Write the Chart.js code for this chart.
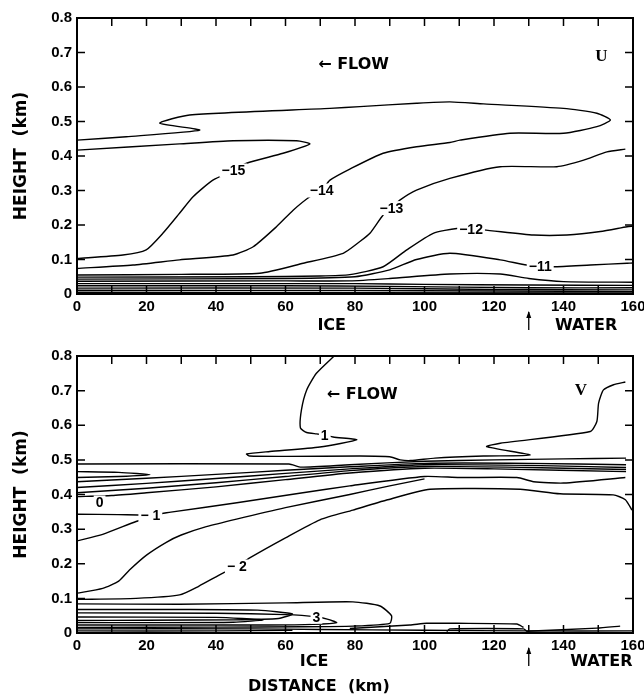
<!DOCTYPE html>
<html>
<head>
<meta charset="utf-8">
<script src="https://cdn.jsdelivr.net/npm/chart.js@4.4.1/dist/chart.umd.min.js"></script>
<style>
  body { margin: 0; background: #fff; }
  #wrap { position: relative; width: 644px; height: 696px; }
  canvas { position: absolute; left: 0; }
</style>
</head>
<body>
<div id="wrap">
  <canvas id="panelU" width="644" height="340" style="top:0"></canvas>
  <canvas id="panelV" width="644" height="356" style="top:340px"></canvas>
</div>
<script>
// contours, [distance km, height km]
// U panel
const u15 = [[0,0.103],[13.2,0.113],[19.9,0.128],[24.7,0.176],[29.5,0.234],[33.4,0.282],[39.1,0.33],[45,0.358],[48.8,0.379],[59.3,0.408],[67,0.435],[63.2,0.444],[44.9,0.444],[29.5,0.435],[0,0.417]];
const u14 = [[0,0.074],[16.1,0.084],[29.5,0.099],[44.9,0.113],[50.7,0.137],[57.4,0.195],[62.2,0.243],[67,0.282],[70.4,0.3],[72.8,0.33],[78.5,0.362],[88.1,0.408],[97.7,0.427],[107.3,0.439],[110.2,0.446],[124.6,0.466],[140,0.466],[149.6,0.485],[153.5,0.504],[149.6,0.524],[140,0.538],[117,0.551],[107.3,0.557],[97.7,0.553],[81.4,0.543],[72.8,0.538],[32.4,0.519],[23.8,0.495],[35.3,0.475],[14.2,0.456],[0,0.446]];
const u13 = [[0,0.055],[30,0.057],[52.6,0.06],[65.1,0.089],[76.6,0.118],[81.4,0.152],[84.3,0.176],[88.1,0.229],[90.5,0.249],[92.9,0.272],[97.7,0.301],[107.3,0.335],[121.8,0.369],[138.1,0.369],[145.8,0.388],[152.5,0.412],[157.8,0.42]];
const u12 = [[0,0.049],[50,0.05],[70,0.052],[78.5,0.056],[88.1,0.079],[94.9,0.128],[102.5,0.176],[109.3,0.19],[113.4,0.188],[117,0.186],[131.4,0.171],[141,0.171],[150.6,0.181],[158.3,0.195],[160,0.197]];
const u11 = [[0,0.043],[60,0.045],[80,0.05],[90,0.07],[97.7,0.1],[107.3,0.118],[121.8,0.099],[129.4,0.084],[133.3,0.081],[137.1,0.079],[147.7,0.084],[158.3,0.089],[160,0.09]];
const u10 = [[0,0.037],[60,0.038],[78.5,0.038],[90,0.045],[107.3,0.058],[121.8,0.058],[130,0.045],[140,0.036],[160,0.034]];
const uGround1 = [[0,0.03],[80,0.03],[100,0.028],[130,0.026],[160,0.025]];
const uGround2 = [[0,0.024],[60,0.024],[90,0.022],[130,0.018],[160,0.018]];
const uGround3 = [[0,0.017],[80,0.017],[120,0.013],[160,0.012]];
const uGround4 = [[0,0.011],[80,0.01],[160,0.007]];
const uGround5 = [[0,0.005],[160,0.003]];
const uContourLabels = [["\u221215",45,0.358],["\u221214",70.4,0.3],["\u221213",90.5,0.249],["\u221212",113.4,0.188],["\u221211",133.3,0.081]];

// V panel
const v1 = [[74,0.8],[68.9,0.75],[66.1,0.702],[64.6,0.645],[64.3,0.592],[66.1,0.579],[68.9,0.575],[71.3,0.572],[73.7,0.566],[80.5,0.558],[69.9,0.537],[55.5,0.524],[48.8,0.517],[49.7,0.511],[60.3,0.51],[81.4,0.511],[90,0.509],[93,0.5],[96,0.498],[103,0.505],[117,0.511],[130.4,0.514],[117.9,0.538],[121.8,0.548],[147.7,0.582],[149.6,0.611],[150.1,0.664],[151.5,0.702],[154.4,0.717],[157.8,0.725]];
const vTop = [[0,0.488],[61,0.488],[64.5,0.479],[78.5,0.486],[100,0.496],[120,0.5],[140,0.503],[158,0.505]];
const vLoop = [[0,0.466],[12,0.464],[21,0.457],[12,0.452],[0,0.449]];
const vFan1 = [[0,0.437],[20,0.447],[40,0.458],[60,0.47],[78.5,0.48],[100,0.49],[130,0.49],[158,0.486]];
const vFan2 = [[0,0.42],[20,0.432],[40,0.446],[60,0.461],[78.5,0.474],[100,0.486],[130,0.484],[158,0.478]];
const vFan3 = [[0,0.405],[20,0.418],[40,0.434],[60,0.452],[78.5,0.469],[100,0.481],[130,0.478],[158,0.472]];
const v0 = [[0,0.394],[10,0.397],[20,0.405],[40,0.422],[60,0.443],[78.5,0.462],[100,0.476],[120,0.474],[158,0.466]];
const vM1 = [[0,0.343],[12,0.342],[21.1,0.341],[27,0.349],[46,0.376],[65,0.405],[78.5,0.425],[100,0.452],[110,0.449],[126.6,0.449],[131.4,0.437],[140,0.433],[157.8,0.449]];
const vM1b = [[0,0.266],[7.4,0.285],[17,0.322],[24,0.345]];
const vS = [[0,0.115],[7.4,0.129],[12,0.15],[15.1,0.182],[20,0.225],[25.7,0.262],[30,0.283],[37.2,0.307],[45.9,0.329],[60,0.362],[78.5,0.4],[90,0.425],[100,0.445]];
const vM2 = [[0,0.097],[17,0.1],[29.5,0.11],[35,0.135],[42,0.173],[46,0.192],[49.7,0.217],[60,0.275],[69.9,0.327],[79.4,0.355],[89.1,0.384],[101.6,0.415],[127.5,0.415],[139,0.402],[154.3,0.399],[157.8,0.385],[159.7,0.355]];
const vTongue = [[0,0.084],[29.5,0.083],[60,0.087],[79.4,0.09],[87.2,0.078],[90.5,0.05],[90,0.028],[79.4,0.02],[65,0.018],[40,0.017],[0,0.016]];
const vT2 = [[0,0.068],[30,0.068],[52,0.066],[62,0.055],[58,0.042],[45,0.038],[20,0.037],[0,0.036]];
const v3 = [[0,0.058],[40,0.057],[60,0.053],[68.9,0.047],[72,0.04],[74.7,0.03],[68,0.025],[55,0.023],[30,0.023],[0,0.023]];
const vT3 = [[0,0.046],[40,0.045],[53.5,0.038],[45,0.031],[20,0.03],[0,0.03]];
const vGround1 = [[0,0.012],[50,0.012],[70,0.01],[100,0.008],[130,0.006],[160,0.006]];
const vGround2 = [[0,0.006],[40,0.006],[62,0.008]];
const vRight1 = [[78.5,0.013],[95.8,0.023],[100.6,0.028],[109.3,0.028],[126.6,0.026],[128.5,0.016]];
const vRightBox = [[106.4,0.004],[107.3,0.012],[128.5,0.012],[129.5,0.004]];
const vRight2 = [[129.5,0.005],[149.6,0.014],[156.3,0.02]];
const vContourLabels = [["1",71.3,0.57],["0",6.5,0.377],["\u2212 1",21.1,0.341],["\u2212 2",46,0.192],["3",68.9,0.047]];

const uLines = [u15, u14, u13, u12, u11, u10, uGround1, uGround2, uGround3, uGround4, uGround5];
const vLines = [v1, vTop, vLoop, vFan1, vFan2, vFan3, v0, vM1, vM1b, vS, vM2, vTongue, vT2, v3, vT3, vGround1, vGround2, vRight1, vRightBox, vRight2];

const sans = '"DejaVu Sans", sans-serif';
const tickFont = { family: '"Liberation Sans", Arial, sans-serif', size: 15, weight: 'bold' };

const panelDecor = {
  id: 'panelDecor',
  afterDatasetsDraw(chart, args, opts) {
    const { ctx, chartArea: a, scales: { x, y } } = chart;
    ctx.save();
    // contour value labels
    ctx.font = 'bold 14px "Liberation Sans", Arial, sans-serif';
    ctx.textAlign = 'center';
    ctx.textBaseline = 'middle';
    opts.labels.forEach(([t, kx, ky]) => {
      const px = x.getPixelForValue(kx), py = y.getPixelForValue(ky);
      const w = ctx.measureText(t).width;
      ctx.fillStyle = '#fff';
      ctx.fillRect(px - w / 2 - 2, py - 7, w + 4, 14);
      ctx.fillStyle = '#000';
      ctx.fillText(t, px, py + 1);
    });
    // frame
    ctx.strokeStyle = '#000';
    ctx.lineWidth = 2;
    ctx.strokeRect(a.left, a.top, a.right - a.left, a.bottom - a.top);
    // inner ticks on all sides
    ctx.lineWidth = 1.5;
    ctx.beginPath();
    x.ticks.forEach(t => {
      if (t.value <= x.min || t.value >= x.max) return;
      const px = x.getPixelForValue(t.value);
      ctx.moveTo(px, a.top); ctx.lineTo(px, a.top + 8);
      ctx.moveTo(px, a.bottom); ctx.lineTo(px, a.bottom - 8);
    });
    y.ticks.forEach(t => {
      if (t.value <= y.min + 1e-9 || t.value >= y.max - 1e-9) return;
      const py = y.getPixelForValue(t.value);
      ctx.moveTo(a.left, py); ctx.lineTo(a.left + 8, py);
      ctx.moveTo(a.right, py); ctx.lineTo(a.right - 8, py);
    });
    ctx.stroke();
    // flow arrow and panel letter
    ctx.fillStyle = '#000';
    ctx.textAlign = 'left';
    ctx.font = 'bold 16px ' + sans;
    ctx.fillText('\u2190 FLOW', x.getPixelForValue(opts.flow[0]), y.getPixelForValue(opts.flow[1]));
    ctx.textAlign = 'center';
    ctx.font = 'bold 17px "Liberation Serif", serif';
    ctx.fillText(opts.letter[0], x.getPixelForValue(opts.letter[1]), y.getPixelForValue(opts.letter[2]));
    // ice / water under the axis
    ctx.font = 'bold 16px ' + sans;
    ctx.fillText('ICE', x.getPixelForValue(opts.ice), a.bottom + opts.under);
    ctx.fillText('WATER', x.getPixelForValue(opts.water), a.bottom + opts.under);
    const ax = x.getPixelForValue(130);
    ctx.lineWidth = 1.3;
    ctx.beginPath();
    ctx.moveTo(ax, a.bottom + opts.under - 14);
    ctx.lineTo(ax, a.bottom + opts.under + 4);
    ctx.stroke();
    ctx.beginPath();
    ctx.moveTo(ax, a.bottom + opts.under - 15);
    ctx.lineTo(ax - 2.5, a.bottom + opts.under - 8);
    ctx.lineTo(ax + 2.5, a.bottom + opts.under - 8);
    ctx.closePath();
    ctx.fill();
    if (opts.distance) {
      ctx.fillText('DISTANCE  (km)', x.getPixelForValue(69.6), a.bottom + 54);
    }
    ctx.restore();
  }
};

function makePanel(canvasId, lines, decor, topPad, xHeight) {
  new Chart(document.getElementById(canvasId), {
    type: 'scatter',
    data: {
      datasets: lines.map(pts => ({
        data: pts.map(p => ({ x: p[0], y: p[1] })),
        showLine: true,
        pointRadius: 0,
        borderColor: '#000',
        borderWidth: 1.4,
        tension: 0.2
      }))
    },
    options: {
      responsive: false,
      animation: false,
      devicePixelRatio: 1,
      layout: { padding: { left: 0, top: topPad, right: 11, bottom: 0 } },
      plugins: {
        legend: { display: false },
        tooltip: { enabled: false },
        panelDecor: decor
      },
      scales: {
        x: {
          type: 'linear', min: 0, max: 160,
          grid: { display: false, drawTicks: false },
          border: { display: false },
          ticks: {
            stepSize: 10, autoSkip: false, maxRotation: 0, padding: 4,
            color: '#000', font: tickFont,
            callback: v => (v % 20 === 0 ? String(v) : '')
          },
          afterFit: s => { s.height = xHeight; s.paddingLeft = 0; s.paddingRight = 0; }
        },
        y: {
          type: 'linear', min: 0, max: 0.8,
          grid: { display: false, drawTicks: false },
          border: { display: false },
          title: { display: true, text: 'HEIGHT  (km)', color: '#000', padding: { top: 11, bottom: 0 },
                   font: { family: '"DejaVu Sans", sans-serif', size: 17, weight: 'bold' } },
          ticks: {
            stepSize: 0.1, padding: 5, color: '#000', font: tickFont,
            callback: v => (Math.abs(v) < 1e-9 ? '0' : v.toFixed(1))
          },
          afterFit: s => { s.width = 77; s.paddingTop = 0; s.paddingBottom = 0; }
        }
      }
    },
    plugins: [panelDecor]
  });
}

makePanel('panelU', uLines, {
  labels: uContourLabels, flow: [69.4, 0.664], letter: ['U', 150.9, 0.687],
  ice: 73.3, water: 146.5, under: 32, distance: false
}, 18, 46);

makePanel('panelV', vLines, {
  labels: vContourLabels, flow: [71.9, 0.688], letter: ['V', 145, 0.699],
  ice: 68.2, water: 150.9, under: 29, distance: true
}, 16, 63);
</script>
</body>
</html>
